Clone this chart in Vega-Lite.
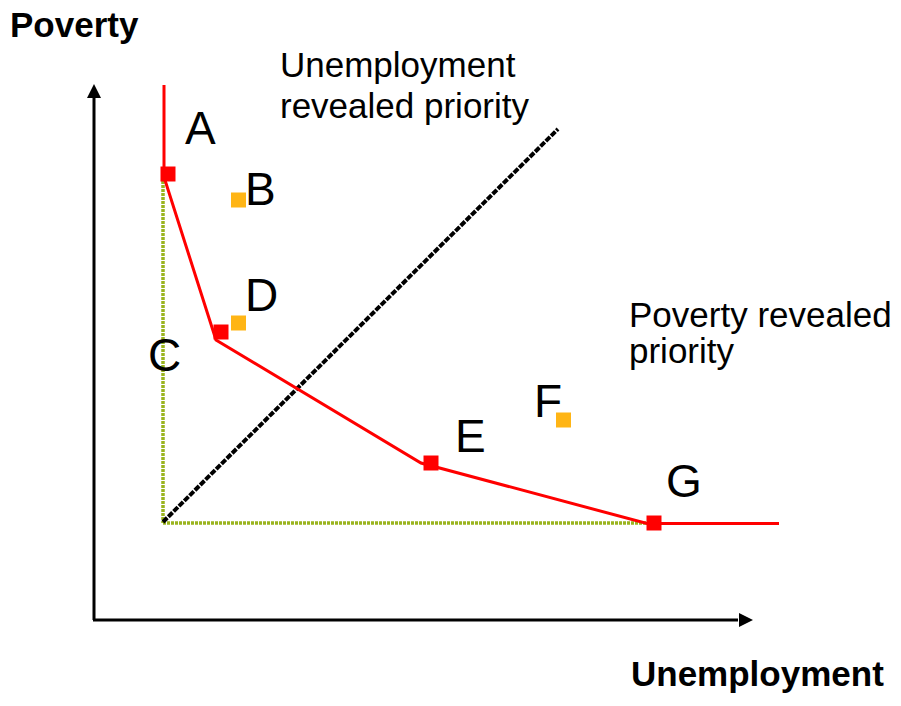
{
  "$schema": "https://vega.github.io/schema/vega-lite/v6.json",
  "width": 901,
  "height": 706,
  "padding": 0,
  "autosize": {"type": "fit", "contains": "padding"},
  "background": "white",
  "config": {"view": {"stroke": null}},
  "datasets": {
    "frontier": [
      {"x": 71, "y": 535, "o": 1},
      {"x": 71, "y": 443, "o": 2},
      {"x": 123, "y": 280, "o": 3},
      {"x": 328, "y": 157, "o": 4},
      {"x": 554, "y": 96.5, "o": 5},
      {"x": 686, "y": 96.5, "o": 6}
    ],
    "green": [
      {"seg": "v", "x": 70, "y": 443, "o": 1},
      {"seg": "v", "x": 70, "y": 97, "o": 2},
      {"seg": "h", "x": 70, "y": 97, "o": 1},
      {"seg": "h", "x": 554, "y": 97, "o": 2}
    ],
    "diag": [
      {"x": 70, "y": 98, "o": 1},
      {"x": 465, "y": 491, "o": 2}
    ],
    "axes": [
      {"seg": "poverty", "x": 1, "y": 0, "o": 1},
      {"seg": "poverty", "x": 1, "y": 522, "o": 2},
      {"seg": "unemployment", "x": 0, "y": 0, "o": 1},
      {"seg": "unemployment", "x": 645, "y": 0, "o": 2}
    ],
    "arrows": [
      {"dir": "up", "x": 1, "y": 529},
      {"dir": "right", "x": 653, "y": 0}
    ],
    "points": [
      {"name": "A", "kind": "frontier", "x": 75, "y": 446},
      {"name": "D", "kind": "frontier", "x": 128, "y": 288},
      {"name": "E", "kind": "frontier", "x": 338, "y": 157},
      {"name": "G", "kind": "frontier", "x": 561, "y": 97},
      {"name": "B", "kind": "interior", "x": 145.5, "y": 420},
      {"name": "D", "kind": "interior", "x": 145.5, "y": 297},
      {"name": "F", "kind": "interior", "x": 470.5, "y": 200}
    ],
    "letters": [
      {"t": "A", "x": 92, "y": 476},
      {"t": "B", "x": 152, "y": 415},
      {"t": "C", "x": 55, "y": 249},
      {"t": "D", "x": 152, "y": 309},
      {"t": "E", "x": 362, "y": 168},
      {"t": "F", "x": 441, "y": 203},
      {"t": "G", "x": 573, "y": 123}
    ],
    "notes": [
      {"t": "Unemployment", "x": 187, "y": 543},
      {"t": "revealed priority", "x": 187, "y": 502},
      {"t": "Poverty revealed", "x": 536, "y": 293},
      {"t": "priority", "x": 536, "y": 257}
    ],
    "titles": [
      {"t": "Poverty", "x": -83, "y": 583},
      {"t": "Unemployment", "x": 538, "y": -66}
    ]
  },
  "encoding": {
    "x": {"field": "x", "type": "quantitative", "scale": {"domain": [-93, 808], "nice": false, "zero": false}, "axis": null},
    "y": {"field": "y", "type": "quantitative", "scale": {"domain": [-86, 620], "nice": false, "zero": false}, "axis": null}
  },
  "layer": [
    {
      "data": {"name": "axes"},
      "mark": {"type": "line", "color": "black", "strokeWidth": 3},
      "encoding": {"detail": {"field": "seg"}, "order": {"field": "o"}}
    },
    {
      "data": {"name": "arrows"},
      "transform": [{"filter": "datum.dir == 'up'"}],
      "mark": {"type": "point", "shape": "M0,-1L1,1L-1,1Z", "filled": true, "color": "black", "opacity": 1, "size": 196, "strokeWidth": 0},
      "encoding": {}
    },
    {
      "data": {"name": "arrows"},
      "transform": [{"filter": "datum.dir == 'right'"}],
      "mark": {"type": "point", "shape": "M1,0L-1,-1L-1,1Z", "filled": true, "color": "black", "opacity": 1, "size": 196, "strokeWidth": 0},
      "encoding": {}
    },
    {
      "data": {"name": "green"},
      "mark": {"type": "line", "color": "#9AB41E", "strokeWidth": 3.5, "strokeDash": [3, 1]},
      "encoding": {"detail": {"field": "seg"}, "order": {"field": "o"}}
    },
    {
      "data": {"name": "diag"},
      "mark": {"type": "line", "color": "black", "strokeWidth": 4, "strokeDash": [6, 1.5]},
      "encoding": {"order": {"field": "o"}}
    },
    {
      "data": {"name": "frontier"},
      "mark": {"type": "line", "color": "#FF0000", "strokeWidth": 3},
      "encoding": {"order": {"field": "o"}}
    },
    {
      "data": {"name": "points"},
      "mark": {"type": "point", "shape": "square", "filled": true, "opacity": 1, "size": 225, "strokeWidth": 0},
      "encoding": {
        "color": {"field": "kind", "type": "nominal", "scale": {"domain": ["frontier", "interior"], "range": ["#FF0000", "#FFB515"]}, "legend": null}
      }
    },
    {
      "data": {"name": "letters"},
      "mark": {"type": "text", "align": "left", "baseline": "alphabetic", "font": "Liberation Sans", "fontSize": 46, "color": "black"},
      "encoding": {"text": {"field": "t"}}
    },
    {
      "data": {"name": "notes"},
      "mark": {"type": "text", "align": "left", "baseline": "alphabetic", "font": "Liberation Sans", "fontSize": 35, "color": "black"},
      "encoding": {"text": {"field": "t"}}
    },
    {
      "data": {"name": "titles"},
      "mark": {"type": "text", "align": "left", "baseline": "alphabetic", "font": "Liberation Sans", "fontSize": 35, "fontWeight": "bold", "color": "black"},
      "encoding": {"text": {"field": "t"}}
    }
  ]
}
